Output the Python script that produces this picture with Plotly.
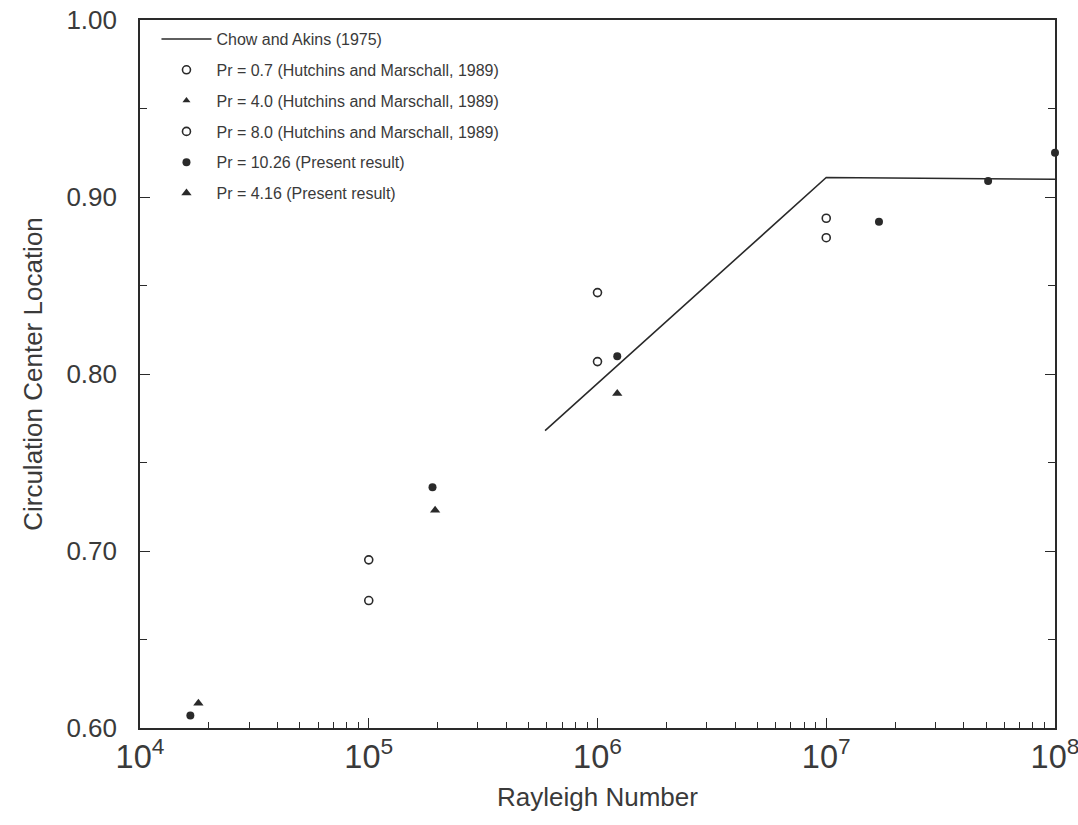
import plotly.graph_objects as go

# Chow and Akins (1975) correlation line
chow_ra = [5.9e5, 1.0e7, 1.0e8]
chow_loc = [0.768, 0.911, 0.910]

# Hutchins and Marschall (1989)
pr07_ra = [1.0e5, 1.0e6, 1.0e7]
pr07_loc = [0.672, 0.807, 0.877]
pr40_ra = [None]
pr40_loc = [None]
pr80_ra = [1.0e5, 1.0e6, 1.0e7]
pr80_loc = [0.695, 0.846, 0.888]

# Present results
pr1026_ra = [1.66e4, 1.9e5, 1.22e6, 1.7e7, 5.1e7, 1.0e8]
pr1026_loc = [0.607, 0.736, 0.810, 0.886, 0.909, 0.925]
pr416_ra = [1.8e4, 1.95e5, 1.22e6]
pr416_loc = [0.614, 0.723, 0.789]

ink = "#2a2a2a"
txt = "#3a3a3a"
fig = go.Figure()
fig.add_trace(go.Scatter(x=chow_ra, y=chow_loc, mode="lines",
                         line=dict(color=ink, width=1.6), legendgroup="g1",
                         name="Chow and Akins (1975)"))
fig.add_trace(go.Scatter(x=pr07_ra, y=pr07_loc, mode="markers", legendgroup="g2",
                         marker=dict(symbol="circle-open", size=8, color=ink, line=dict(width=1.6)),
                         name="Pr = 0.7 (Hutchins and Marschall, 1989)"))
fig.add_trace(go.Scatter(x=pr40_ra, y=pr40_loc, mode="markers", legendgroup="g3",
                         marker=dict(symbol="triangle-up", size=7, color=ink),
                         name="Pr = 4.0 (Hutchins and Marschall, 1989)"))
fig.add_trace(go.Scatter(x=pr80_ra, y=pr80_loc, mode="markers", legendgroup="g4",
                         marker=dict(symbol="circle-open", size=8, color=ink, line=dict(width=1.6)),
                         name="Pr = 8.0 (Hutchins and Marschall, 1989)"))
fig.add_trace(go.Scatter(x=pr1026_ra, y=pr1026_loc, mode="markers", legendgroup="g5",
                         marker=dict(symbol="circle", size=8, color=ink),
                         name="Pr = 10.26 (Present result)", cliponaxis=False))
fig.add_trace(go.Scatter(x=pr416_ra, y=pr416_loc, mode="markers", legendgroup="g6",
                         marker=dict(symbol="triangle-up", size=9, color=ink),
                         name="Pr = 4.16 (Present result)"))

fig.update_layout(
    width=1078, height=825,
    margin=dict(l=140, r=23, t=20, b=97),
    paper_bgcolor="white", plot_bgcolor="white",
    font=dict(family="Liberation Sans, Arial, sans-serif", color=txt, size=26),
    showlegend=True,
    legend=dict(x=0.018, y=0.997, xanchor="left", yanchor="top",
                bgcolor="rgba(0,0,0,0)", font=dict(size=16, color=txt),
                tracegroupgap=7, itemwidth=50),
    xaxis=dict(type="log", range=[4, 8], dtick=1, exponentformat="power",
               showgrid=False, zeroline=False, automargin=False,
               ticklabeloverflow="allow",
               showline=True, linecolor=ink, linewidth=1.6, mirror=True,
               ticks="inside", ticklen=10, tickcolor=ink,
               minor=dict(ticks="inside", ticklen=6, tickcolor=ink, showgrid=False),
               tickfont=dict(size=26)),
    yaxis=dict(range=[0.6, 1.0], dtick=0.1, tickformat=".2f",
               showgrid=False, zeroline=False, automargin=False,
               showline=True, linecolor=ink, linewidth=1.6, mirror="ticks",
               ticks="inside", ticklen=10, tickcolor=ink, ticklabelstandoff=16,
               minor=dict(ticks="inside", ticklen=7, dtick=0.05, tickcolor=ink, showgrid=False),
               title=dict(text="Circulation Center Location", font=dict(size=26), standoff=16),
               tickfont=dict(size=26)),
    annotations=[dict(text="Rayleigh Number", xref="paper", yref="paper",
                      x=0.5, y=-0.098, xanchor="center", yanchor="middle",
                      showarrow=False, font=dict(size=26, color=txt))],
)

fig.write_html("out.html")
